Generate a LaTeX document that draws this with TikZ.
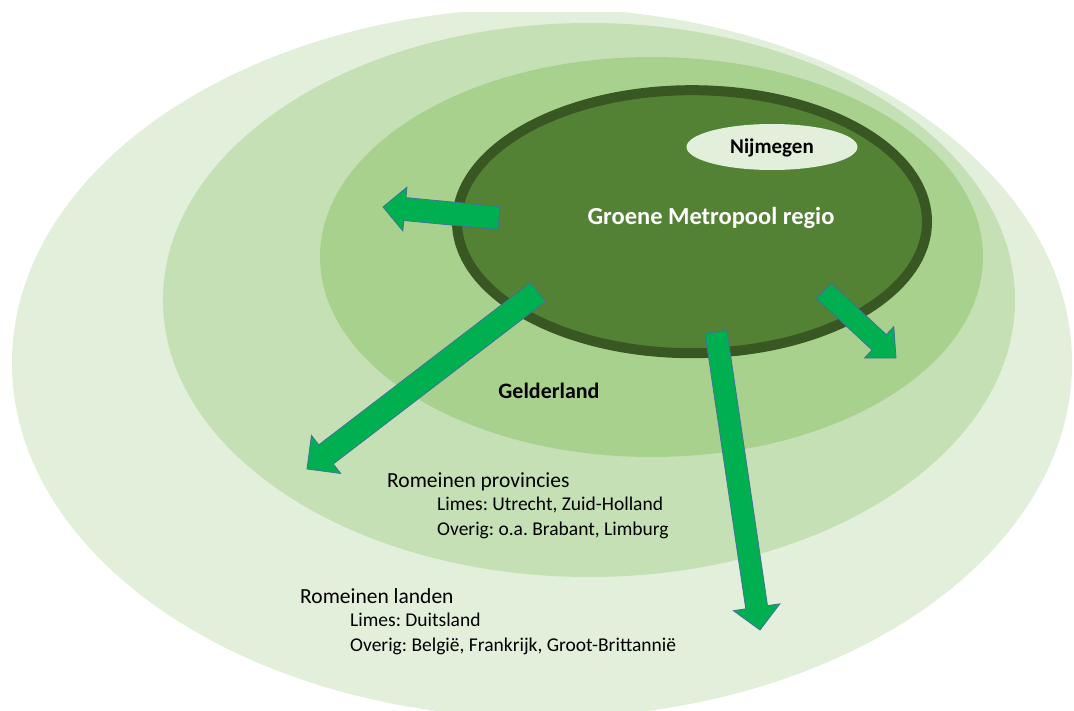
\documentclass[tikz,border=0pt]{standalone}
\usepackage{fontspec}
\setmainfont{Carlito}
\usetikzlibrary{calc}
\frenchspacing
\definecolor{layA}{HTML}{E2EFDA}
\definecolor{layB}{HTML}{C5E0B4}
\definecolor{layC}{HTML}{A9D18E}
\definecolor{coreFill}{HTML}{548235}
\definecolor{coreLine}{HTML}{385723}
\definecolor{arrFill}{HTML}{00B050}
\definecolor{arrLine}{HTML}{41719C}
\newcommand\greenblockarrow[5]{% tail, tip, half shaft width, half head width, head length
  \coordinate (hb) at ($(#2)!#5!(#1)$);
  \path[arrowshape]
    ($(#1)!#3!90:(#2)$) -- ($(hb)!#3!90:(#2)$) -- ($(hb)!#4!90:(#2)$) -- (#2)
    -- ($(hb)!#4!-90:(#2)$) -- ($(hb)!#3!-90:(#2)$) -- ($(#1)!#3!-90:(#2)$) -- cycle;
}
\begin{document}
\begin{tikzpicture}[x=1pt,y=-1pt,
  arrowshape/.style={fill=arrFill,draw=arrLine,line width=0.8pt,line join=miter},
  boldlabel/.style={font=\fontsize{21}{24}\selectfont\bfseries,inner sep=0pt},
  headlabel/.style={font=\fontsize{21.5}{25}\selectfont,inner sep=0pt,anchor=base west},
  sublabel/.style={font=\fontsize{19.5}{23}\selectfont,inner sep=0pt,anchor=base west}]
\useasboundingbox (0,0) rectangle (1074,711);
\fill[white] (0,0) rectangle (1074,711);
\begin{scope}
  \clip (0,12.7) rectangle (1074,711);
  \fill[layA] (542,363) ellipse [x radius=530pt, y radius=355pt];
\end{scope}
\fill[layB] (589,300) ellipse [x radius=426pt, y radius=277pt];
\fill[layC] (651.5,257) ellipse [x radius=331.5pt, y radius=200pt];
\filldraw[fill=coreFill,draw=coreLine,line width=10pt] (692,221.7) ellipse [x radius=235pt, y radius=131.5pt];
\fill[layA] (772,147) ellipse [x radius=85.5pt, y radius=23pt];
\node[boldlabel,anchor=base,text=black] (nij) at (772,153.3) {Nijmegen};

% arrows
\coordinate (a1t) at (499,218); \coordinate (a1h) at (383,207);
\greenblockarrow{a1t}{a1h}{11.5pt}{22pt}{22pt}
\coordinate (a2t) at (538,292); \coordinate (a2h) at (307,469);
\greenblockarrow{a2t}{a2h}{12pt}{24pt}{24pt}
\coordinate (a3t) at (716,332); \coordinate (a3h) at (760,630);
\greenblockarrow{a3t}{a3h}{11pt}{23.5pt}{23pt}
\coordinate (a4t) at (824,291); \coordinate (a4h) at (896,358);
\greenblockarrow{a4t}{a4h}{10.5pt}{21.5pt}{23pt}

\node[boldlabel,font=\fontsize{24.5}{28}\selectfont\bfseries,anchor=base,text=white] (gm) at (711,224.5) {Groene Metropool regio};
\node[boldlabel,font=\fontsize{22}{26}\selectfont\bfseries,anchor=base,text=black] (geld) at (549,398) {Gelderland};

\node[headlabel] (rp) at (387,487) {Romeinen provincies};
\node[sublabel] (rp1) at (437,510) {Limes: Utrecht, Zuid-Holland};
\node[sublabel] (rp2) at (437,535) {Overig: o.a. Brabant, Limburg};

\node[headlabel] (rl) at (300,603) {Romeinen landen};
\node[sublabel] (rl1) at (350,626) {Limes: Duitsland};
\node[sublabel] (rl2) at (350,651) {Overig: België, Frankrijk, Groot-Brittannië};
\end{tikzpicture}
\end{document}
